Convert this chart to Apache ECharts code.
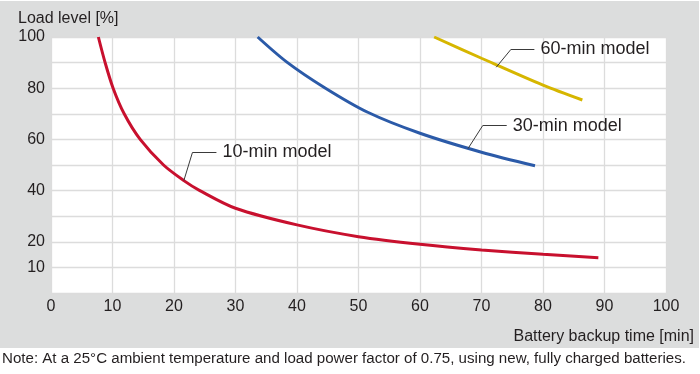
<!DOCTYPE html>
<html>
<head>
<meta charset="utf-8">
<script src="https://cdn.jsdelivr.net/npm/echarts@6/dist/echarts.min.js"></script>
<style>
html,body{margin:0;padding:0;background:#fff;}
#chart{width:700px;height:374px;}
</style>
</head>
<body>
<div id="chart"></div>
<script>
// ---- data ----
var xTickLabels = [0, 10, 20, 30, 40, 50, 60, 70, 80, 90, 100];
var yTickLabels = [10, 20, 40, 60, 80, 100];

var model10 = [[7.7,100],[8.8,90],[10.1,80],[11.9,70],[14.5,60],[18.3,50],[21.6,43.9],[24.2,40],[30,33.1],[40,26.6],[50,22.0],[60,19.0],[70,16.8],[80,15.1],[89,13.8]];
var model30 = [[33.6,100],[38.3,90.3],[44.5,80.2],[51.5,70.6],[60,62.4],[70,55.0],[78.7,49.7]];
var model60 = [[62.3,100],[70,91.7],[80,81.2],[86.4,75.4]];

var seriesNames = ['10-min model', '30-min model', '60-min model'];
// leader lines: [point on curve, elbow, end of horizontal]
var leader10 = [[21.6,43.9],[23.0,54.9],[26.9,54.9]];
var leader30 = [[67.8,56.4],[70.2,65.4],[74.1,65.4]];
var leader60 = [[72.4,88.2],[74.8,95.2],[78.6,95.2]];

var yAxisTitle = 'Load level [%]';
var xAxisTitle = 'Battery backup time [min]';
var noteText = 'Note: At a 25\u00b0C ambient temperature and load power factor of 0.75, using new, fully charged batteries.';

// ---- chart ----
var FONT = '"Liberation Sans", Arial, Helvetica, sans-serif';
var TXT = '#231f20';
var colors = ['#c8102e', '#2b5aa8', '#d6b600'];

function leaderMark(pts, name) {
  return {
    silent: true,
    symbol: ['none', 'none'],
    lineStyle: { color: '#3a3a3a', width: 1, type: 'solid' },
    emphasis: { disabled: true },
    data: [
      [{ coord: pts[0], label: { show: false } }, { coord: pts[1] }],
      [{ coord: pts[1], label: { show: true, position: 'end', formatter: name, distance: 6,
          color: TXT, fontSize: 18, fontFamily: FONT } }, { coord: pts[2] }]
    ]
  };
}

function curve(data, idx, leader) {
  return {
    type: 'line',
    name: seriesNames[idx],
    data: data,
    smooth: 0.3,
    showSymbol: false,
    symbol: 'none',
    clip: true,
    lineStyle: { color: colors[idx], width: 3 },
    itemStyle: { color: colors[idx] },
    emphasis: { disabled: true },
    markLine: leaderMark(leader, seriesNames[idx]),
    animation: false
  };
}

var chart = echarts.init(document.getElementById('chart'), null, { renderer: 'canvas' });
chart.setOption({
  backgroundColor: '#ffffff',
  animation: false,
  textStyle: { fontFamily: FONT },
  title: [
    { text: yAxisTitle, left: 18, top: 11, textStyle: { fontSize: 16, fontWeight: 'normal', color: TXT, fontFamily: FONT }, padding: 0 },
    { text: noteText, left: 2, top: 351, textStyle: { fontSize: 15.1, fontWeight: 'normal', color: TXT, fontFamily: FONT }, padding: 0 }
  ],
  graphic: [
    { type: 'rect', z: -100, silent: true, shape: { x: 0, y: 1, width: 699, height: 347 }, style: { fill: '#dcdddd' } }
  ],
  grid: { left: 51, right: 34, top: 37, bottom: 81, show: true, backgroundColor: '#ffffff', borderWidth: 0 },
  xAxis: {
    type: 'value', min: 0, max: 100, interval: 10,
    axisLine: { show: false }, axisTick: { show: false },
    splitLine: { show: true, lineStyle: { color: '#dcdcdc', width: 1.3 } },
    axisLabel: { color: TXT, fontSize: 16, fontFamily: FONT, margin: 6,
      formatter: function (v) { return xTickLabels.indexOf(v) >= 0 ? String(v) : ''; } },
    name: xAxisTitle, nameLocation: 'end', nameGap: 28,
    nameTextStyle: { color: TXT, fontSize: 16, fontFamily: FONT, align: 'right', verticalAlign: 'top', padding: [36, 0, 0, 0] }
  },
  yAxis: {
    type: 'value', min: 0, max: 100, interval: 10,
    axisLine: { show: false }, axisTick: { show: false },
    splitLine: { show: true, lineStyle: { color: '#dcdcdc', width: 1.3 } },
    axisLabel: { color: TXT, fontSize: 16, fontFamily: FONT, margin: 6,
      formatter: function (v) { return yTickLabels.indexOf(v) >= 0 ? String(v) : ''; } }
  },
  series: [
    curve(model10, 0, leader10),
    curve(model30, 1, leader30),
    curve(model60, 2, leader60)
  ]
});
</script>
</body>
</html>
